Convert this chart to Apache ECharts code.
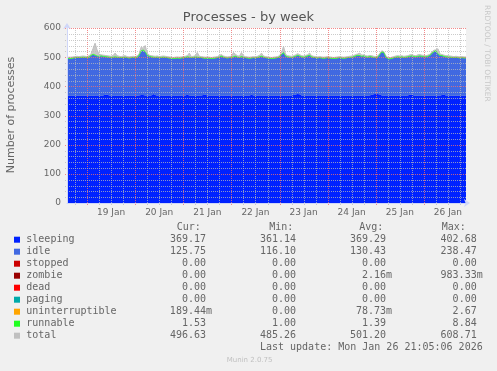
<!DOCTYPE html>
<html><head><meta charset="utf-8">
<script src="https://cdn.jsdelivr.net/npm/echarts@6/dist/echarts.min.js"></script>
<style>html,body{margin:0;padding:0;background:#f0f0f0;}#c{width:497px;height:371px;}</style>
</head><body><div id="c"></div>
<script>
// time in hours since Jan 18 2026 00:00, one sample per hour
const startHour = 14;
const stepHours = 1;

const sleeping = [
368,368,369,368,368,369,368,368,369,368,
368,369,368,368,369,369,368,368,369,371,
372,369,368,368,369,368,368,368,369,368,
368,369,368,368,369,368,369,370,370,369,
368,368,369,374,370,368,368,369,368,368,
369,368,368,369,368,368,369,368,368,369,
371,369,368,368,369,368,368,369,370,371,
369,368,368,369,368,368,369,368,368,369,
368,368,369,368,368,369,368,369,368,368,
369,368,371,369,368,368,369,368,368,369,
368,369,368,368,369,368,368,369,368,369,
368,368,369,370,372,374,373,369,368,369,
368,368,369,368,368,369,368,368,369,368,
368,369,368,368,369,368,368,369,368,368,
369,368,368,369,368,369,368,368,369,368,
368,369,371,373,375,374,372,369,368,369,
368,368,369,368,368,369,368,368,369,368,
369,371,372,369,368,368,369,368,368,369,
368,368,369,368,368,369,368,370,371,369,
368,369,368,368,369,368,368,369,368,368];

const idle = [
126,127,125,128,129,129,129,130,130,130,
129,130,137,140,137,134,134,135,133,130,
128,130,130,131,131,131,130,129,129,131,
129,127,129,130,128,131,136,150,153,149,
138,134,131,125,128,131,129,129,131,130,
128,128,127,125,127,128,126,128,129,129,
129,130,129,130,131,131,130,128,126,124,
127,127,126,126,128,129,131,134,131,128,
128,129,129,132,134,130,130,132,131,129,
127,127,125,128,128,130,131,134,131,128,
128,126,126,127,127,129,132,139,146,134,
132,131,129,130,130,131,130,131,131,132,
135,137,131,130,129,127,129,128,126,128,
129,127,127,126,126,128,129,127,127,128,
128,130,131,132,135,136,136,134,134,132,
131,132,129,125,122,125,136,148,146,131,
126,125,126,129,131,131,131,132,129,131,
131,131,131,132,132,134,134,134,133,131,
134,137,143,150,152,141,137,134,131,131,
132,130,130,129,129,129,128,128,128,128];

const runnable = [
1.5,1.3,1.4,1.6,1.2,1.3,1.5,1.4,1.3,1.6,
1.4,1.5,1.8,2.1,1.6,1.4,1.3,1.5,1.4,1.3,
1.2,1.4,1.5,1.3,1.4,1.2,1.3,1.5,1.4,1.3,
1.4,1.3,1.2,1.5,1.4,1.6,1.9,2.2,1.8,1.5,
1.4,1.3,1.5,1.4,1.2,1.3,1.4,1.5,1.3,1.4,
1.3,1.2,1.4,1.3,1.2,1.3,1.4,1.3,1.5,1.4,
1.6,1.4,1.3,1.5,1.4,1.3,1.4,1.5,1.3,1.4,
1.3,1.4,1.2,1.3,1.5,1.4,1.6,1.8,1.5,1.4,
1.3,1.4,1.5,1.7,1.6,1.4,1.3,1.5,1.4,1.3,
1.4,1.3,1.2,1.4,1.3,1.5,1.4,1.6,1.4,1.3,
1.3,1.2,1.3,1.4,1.3,1.5,1.4,1.7,2.0,1.5,
1.4,1.3,1.2,1.4,1.5,1.6,1.4,1.3,1.4,1.3,
1.5,1.6,1.4,1.3,1.2,1.3,1.4,1.3,1.2,1.3,
1.4,1.3,1.2,1.3,1.4,1.3,1.4,1.3,1.2,1.3,
1.4,1.3,1.4,1.5,1.6,1.7,1.5,1.4,1.5,1.3,
1.4,1.5,1.3,1.2,1.3,1.4,1.5,1.9,1.7,1.4,
1.3,1.2,1.3,1.4,1.3,1.4,1.3,1.4,1.3,1.4,
1.4,1.5,1.6,1.4,1.3,1.4,1.5,1.4,1.3,1.4,
1.5,1.6,1.8,1.9,1.7,1.5,1.4,1.5,1.4,1.3,
1.4,1.3,1.4,1.3,1.4,1.3,1.5,1.4,1.6,1.5];

const total = [
499,500,500,501,502,503,502,503,504,503,
502,505,512,530,548,525,510,508,507,506,
505,504,503,506,514,505,503,502,504,505,
502,501,502,503,502,504,512,535,530,540,
514,507,505,504,503,504,502,503,504,503,
502,501,500,499,500,501,500,501,502,503,
505,514,502,503,505,516,503,502,501,500,
501,500,499,500,501,502,506,509,504,502,
501,502,503,516,510,505,503,516,504,502,
501,500,501,502,501,503,506,514,504,502,
501,500,499,500,501,502,505,516,537,510,
505,504,503,505,508,512,509,505,504,506,
508,514,505,503,502,501,502,501,500,501,
502,501,500,499,500,501,502,501,500,501,
502,503,504,506,509,511,514,507,508,505,
504,506,505,503,502,504,513,522,519,505,
499,498,500,502,504,505,504,505,503,504,
505,508,509,506,505,508,509,507,506,505,
507,510,518,524,525,529,511,509,507,505,
505,504,503,502,503,502,501,502,501,501];

const dayLabels = ['19 Jan','20 Jan','21 Jan','22 Jan','23 Jan','24 Jan','25 Jan','26 Jan'];
const yLabelValues = [0,100,200,300,400,500,600];

const legendNames = ['sleeping','idle','stopped','zombie','dead','paging','uninterruptible','runnable','total'];
const legendColors = ['#0022ff','#4169e1','#cc0000','#990000','#ff0000','#00aaaa','#ffa500','#22ff22','#c0c0c0'];
const curValues = ['369.17','125.75','0.00','0.00','0.00','0.00','189.44m','1.53','496.63'];
const minValues = ['361.14','116.10','0.00','0.00','0.00','0.00','0.00','1.00','485.26'];
const avgValues = ['369.29','130.43','0.00','2.16m','0.00','0.00','78.73m','1.39','501.20'];
const maxValues = ['402.68','238.47','0.00','983.33m','0.00','0.00','2.67','8.84','608.71'];
const columnHeaders = ['Cur:','Min:','Avg:','Max:'];
const titleText = 'Processes - by week';
const yName = 'Number of processes';
const lastUpdate = 'Last update: Mon Jan 26 21:05:06 2026';
const footer = 'Munin 2.0.75';
const watermark = 'RRDTOOL / TOBI OETIKER';

// ---------- build ----------
const hours = sleeping.map((_, i) => startHour + i * stepHours);
const hourAt = idx => hours[idx];
const isNoon = idx => hourAt(idx) % 24 === 12;

const gridColor = 'rgba(185,185,185,0.75)';
const mgridColor = 'rgba(240,110,110,0.8)';
const fontColor = '#666666';
const axisColor = '#cfd6f8';
const mono = '10px "DejaVu Sans Mono"';

// grid positions: [category index, isMajor] and [0, value, isMajor]
const vGrid = [];
hours.forEach((h, idx) => { if (h % 6 === 0) vGrid.push([idx, 0, h % 24 === 0 ? 1 : 0]); });
const hGrid = [];
for (let v = 20; v <= 600; v += 20) hGrid.push([0, v, v % 100 === 0 ? 1 : 0]);
const crisp = v => Math.round(v) + 0.5;

const graphics = [];
graphics.push({type:'text', x:248.5, y:18, style:{text:titleText, fill:'#555', font:'13px "DejaVu Sans"', align:'center', verticalAlign:'middle'}});
graphics.push({type:'text', x:11, y:115, rotation:Math.PI/2, style:{text:yName, fill:fontColor, font:'11px "DejaVu Sans"', align:'center', verticalAlign:'middle'}});
graphics.push({type:'text', x:487, y:5, rotation:-Math.PI/2, style:{text:watermark, fill:'#c8c8c8', font:'7.5px "DejaVu Sans"', align:'left', verticalAlign:'middle'}});
const headerX = [176.7, 269.3, 359.3, 441.7];
columnHeaders.forEach((s, i) => graphics.push({type:'text', x:headerX[i], y:227.5, style:{text:s, fill:fontColor, font:mono, align:'left', verticalAlign:'middle'}}));
const colRight = [206, 296, 386, 476.7];
const cols = [curValues, minValues, avgValues, maxValues];
legendNames.forEach((name, r) => {
  const y = 239.7 + r * 12;
  graphics.push({type:'rect', shape:{x:14, y:y - 3, width:6, height:6}, style:{fill:legendColors[r]}});
  graphics.push({type:'text', x:26.3, y:y, style:{text:name, fill:fontColor, font:mono, align:'left', verticalAlign:'middle'}});
  cols.forEach((arr, c) => {
    const v = arr[r];
    const xr = v.endsWith('m') ? colRight[c] + 6 : colRight[c];
    graphics.push({type:'text', x:xr, y:y, style:{text:v, fill:fontColor, font:mono, align:'right', verticalAlign:'middle'}});
  });
});
graphics.push({type:'text', x:482.7, y:347, style:{text:lastUpdate, fill:fontColor, font:mono, align:'right', verticalAlign:'middle'}});
graphics.push({type:'text', x:272.5, y:360, style:{text:footer, fill:'#c0c0c0', font:'7px "DejaVu Sans"', align:'right', verticalAlign:'middle'}});

const chart = echarts.init(document.getElementById('c'), null, {renderer:'canvas'});
chart.setOption({
  animation:false,
  backgroundColor:'#f0f0f0',
  grid:{left:67, right:31, top:28, bottom:168, show:true, backgroundColor:'#ffffff', borderWidth:0},
  xAxis:{
    type:'category', data:hours, boundaryGap:false, position:'bottom', z:20,
    axisLine:{show:true, onZero:false, lineStyle:{color:axisColor, width:1}, symbol:['none','arrow'], symbolSize:[6,6], symbolOffset:[0,4]},
    axisTick:{show:false},
    axisLabel:{interval:isNoon, formatter:(v, idx) => dayLabels[Math.floor(hourAt(idx) / 24) - 1] || '', color:fontColor, fontFamily:'DejaVu Sans', fontSize:9, margin:5},
    splitLine:{show:false}
  },
  yAxis:{
    type:'value', min:0, max:600, position:'left', z:20,
    axisLine:{show:true, onZero:false, lineStyle:{color:axisColor, width:1}, symbol:['none','arrow'], symbolSize:[6,6], symbolOffset:[0,5]},
    axisTick:{show:false},
    axisLabel:{customValues:yLabelValues, color:fontColor, fontFamily:'DejaVu Sans', fontSize:9, margin:6},
    splitLine:{show:false}
  },
  series:[
    {name:'total', type:'line', data:total, z:1, symbol:'none', showSymbol:false, lineStyle:{width:1, color:'#c0c0c0'}, areaStyle:{color:'#c8c8c8', opacity:1}},
    {name:'sleeping', type:'line', stack:'p', data:sleeping, z:2, symbol:'none', showSymbol:false, lineStyle:{width:0}, areaStyle:{color:'#0022ff', opacity:1}},
    {name:'idle', type:'line', stack:'p', data:idle, z:2, symbol:'none', showSymbol:false, lineStyle:{width:0}, areaStyle:{color:'#4169e1', opacity:1}},
    {name:'runnable', type:'line', stack:'p', data:runnable, z:2, symbol:'none', showSymbol:false, lineStyle:{width:0.6, color:'#22ff22'}, areaStyle:{color:'#22ff22', opacity:1}},
    {name:'vgrid', type:'custom', z:10, silent:true, clip:false, data:vGrid, encode:{x:0, y:1},
      renderItem:(params, api) => {
        const cs = params.coordSys;
        const x = crisp(api.coord([api.value(0), 0])[0]);
        return {type:'line', shape:{x1:x, y1:cs.y, x2:x, y2:cs.y + cs.height + 2},
          style:{stroke: api.value(2) ? mgridColor : gridColor, lineWidth:1, lineDash:[1,1], fill:null}};
      }},
    {name:'hgrid', type:'custom', z:10, silent:true, clip:false, data:hGrid, encode:{x:0, y:1},
      renderItem:(params, api) => {
        const cs = params.coordSys;
        const y = crisp(api.coord([0, api.value(1)])[1]);
        return {type:'line', shape:{x1:cs.x - 2, y1:y, x2:cs.x + cs.width, y2:y},
          style:{stroke: api.value(2) ? mgridColor : gridColor, lineWidth:1, lineDash:[1,1], fill:null}};
      }}
  ],
  graphic:graphics
});
</script></body></html>
